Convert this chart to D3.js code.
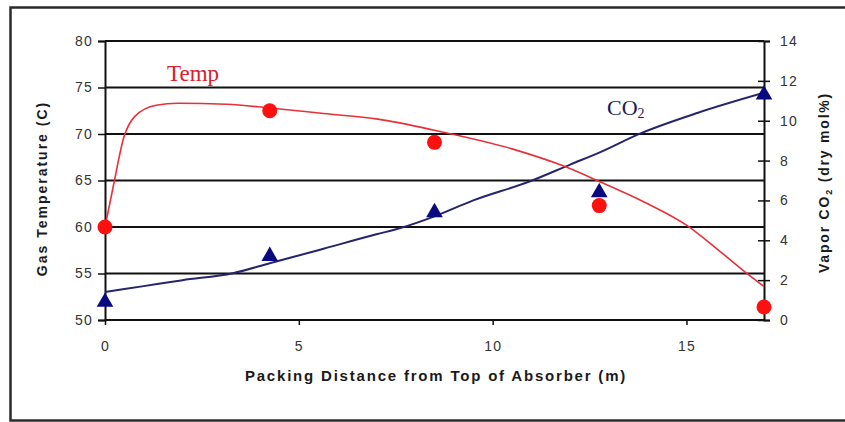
<!DOCTYPE html>
<html>
<head>
<meta charset="utf-8">
<script src="https://cdn.jsdelivr.net/npm/d3@7"></script>
<style>
  body { margin: 0; background: #fff; }
  svg { display: block; font-family: Arial, "Liberation Sans", sans-serif; }
</style>
</head>
<body>
<div id="chart"></div>
<script>
// measured points
const distance = [0, 4.25, 8.5, 12.75, 17];
const tempMeasured = [60, 72.5, 69.1, 62.3, 51.4];
const co2Measured = [0.9, 3.2, 5.4, 6.4, 11.3];

// model curves
const tempModelX = [0, 0.21, 0.49, 0.77, 1.32, 1.88, 3.14, 4.25, 5.64, 7.04, 8.5, 10.5, 11.8, 12.75, 14, 15, 15.8, 16.5, 17];
const tempModelY = [60, 64.3, 69.7, 71.9, 73.1, 73.3, 73.2, 72.8, 72.2, 71.6, 70.4, 68.4, 66.6, 64.9, 62.5, 60.2, 57.6, 55.2, 53.6];
const co2ModelX = [0, 1, 2, 3.3, 4.25, 5.5, 7, 7.6, 8.5, 9.5, 10.95, 12, 12.75, 13.8, 15.3, 17];
const co2ModelY = [1.4, 1.7, 2.0, 2.35, 2.85, 3.5, 4.3, 4.6, 5.2, 6.0, 6.95, 7.8, 8.4, 9.35, 10.4, 11.4];

const xTicks = [0, 5, 10, 15];
const leftTicks = [50, 55, 60, 65, 70, 75, 80];
const rightTicks = [0, 2, 4, 6, 8, 10, 12, 14];

const W = 845, H = 422;
const plot = { left: 105, right: 764, top: 41, bottom: 320 };

const svg = d3.select('#chart').append('svg')
  .attr('width', W).attr('height', H);

svg.append('rect').attr('width', W).attr('height', H).attr('fill', '#fff');

// outer frame (right edge falls off the picture)
svg.append('rect')
  .attr('x', 10.5).attr('y', 7.5).attr('width', 900).attr('height', 413)
  .attr('fill', 'none').attr('stroke', '#2b2b2b').attr('stroke-width', 2.5);

const x = d3.scaleLinear().domain([0, 17]).range([plot.left, plot.right]);
const yT = d3.scaleLinear().domain([50, 80]).range([plot.bottom, plot.top]);
const yC = d3.scaleLinear().domain([0, 14]).range([plot.bottom, plot.top]);

// horizontal gridlines
svg.append('g').selectAll('line').data(leftTicks).join('line')
  .attr('x1', plot.left).attr('x2', plot.right)
  .attr('y1', d => yT(d)).attr('y2', d => yT(d))
  .attr('stroke', '#111').attr('stroke-width', 2);

// left axis
const gl = svg.append('g').attr('transform', `translate(${plot.left},0)`)
  .call(d3.axisLeft(yT).tickValues(leftTicks).tickSize(7).tickPadding(5));
// right axis
const gr = svg.append('g').attr('transform', `translate(${plot.right},0)`)
  .call(d3.axisRight(yC).tickValues(rightTicks).tickSize(6).tickPadding(10));
gr.selectAll('.tick line').attr('x1', -6);
// bottom axis
const gb = svg.append('g').attr('transform', `translate(0,${plot.bottom})`)
  .call(d3.axisBottom(x).tickValues(xTicks).tickSize(5).tickPadding(16));

[gl, gr, gb].forEach(g => {
  g.select('.domain').attr('stroke', '#111').attr('stroke-width', 2);
  g.selectAll('.tick line').attr('stroke', '#111').attr('stroke-width', 1.5);
  g.selectAll('.tick text').attr('fill', '#333').style('font-size', '14px')
    .style('letter-spacing', '1.2px');
});
gb.select('.domain').remove();

// model lines
const tempLine = d3.line().x(d => x(d[0])).y(d => yT(d[1])).curve(d3.curveMonotoneX);
const co2Line = d3.line().x(d => x(d[0])).y(d => yC(d[1])).curve(d3.curveMonotoneX);

svg.append('path').datum(d3.zip(co2ModelX, co2ModelY))
  .attr('d', co2Line).attr('fill', 'none')
  .attr('stroke', '#25256e').attr('stroke-width', 2);
svg.append('path').datum(d3.zip(tempModelX, tempModelY))
  .attr('d', tempLine).attr('fill', 'none')
  .attr('stroke', '#e8303a').attr('stroke-width', 1.6);

// markers
svg.append('g').selectAll('path').data(d3.zip(distance, co2Measured)).join('path')
  .attr('d', d3.symbol(d3.symbolTriangle, 120))
  .attr('transform', d => `translate(${x(d[0])},${yC(d[1])})`)
  .attr('fill', '#0a0a80');
svg.append('g').selectAll('circle').data(d3.zip(distance, tempMeasured)).join('circle')
  .attr('cx', d => x(d[0])).attr('cy', d => yT(d[1])).attr('r', 7.5)
  .attr('fill', '#ff1010');

// series labels
svg.append('text').attr('x', 167).attr('y', 81)
  .attr('font-family', '"Liberation Serif", "Times New Roman", serif')
  .attr('font-size', 23).attr('fill', '#d8202c').text('Temp');
const co2Lbl = svg.append('text').attr('x', 607).attr('y', 115)
  .attr('font-family', '"Liberation Serif", "Times New Roman", serif')
  .attr('font-size', 22).attr('fill', '#1c1c5a');
co2Lbl.append('tspan').text('CO');
co2Lbl.append('tspan').attr('font-size', 14).attr('dy', 3).text('2');

// axis titles
svg.append('text')
  .attr('transform', `translate(47,${(plot.top + plot.bottom) / 2 + 8}) rotate(-90)`)
  .attr('text-anchor', 'middle').attr('font-weight', 'bold').attr('font-size', 14)
  .style('letter-spacing', '2px').attr('fill', '#1a1a1a')
  .text('Gas Temperature (C)');

const rt = svg.append('text')
  .attr('transform', `translate(829,${(plot.top + plot.bottom) / 2 + 2}) rotate(-90)`)
  .attr('text-anchor', 'middle').attr('font-weight', 'bold').attr('font-size', 14)
  .style('letter-spacing', '1.8px').attr('fill', '#1a1a1a');
rt.append('tspan').text('Vapor CO');
rt.append('tspan').attr('font-size', 9).attr('dy', 3).text('2');
rt.append('tspan').attr('dy', -3).text(' (dry mol%)');

svg.append('text').attr('x', 436).attr('y', 381)
  .attr('text-anchor', 'middle').attr('font-weight', 'bold').attr('font-size', 15)
  .style('letter-spacing', '1.8px').attr('fill', '#1a1a1a')
  .text('Packing Distance from Top of Absorber (m)');
</script>
</body>
</html>
